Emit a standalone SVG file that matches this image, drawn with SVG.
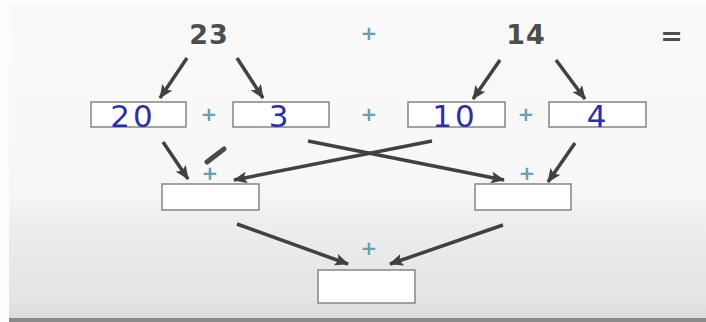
<svg xmlns="http://www.w3.org/2000/svg" width="706" height="322" viewBox="0 0 706 322">
<defs>
<linearGradient id="bg" x1="0" y1="0" x2="0" y2="1">
<stop offset="0" stop-color="#fafafa"/>
<stop offset="0.6" stop-color="#f7f7f7"/>
<stop offset="0.68" stop-color="#eeeeee"/>
<stop offset="0.93" stop-color="#e4e4e4"/>
<stop offset="1" stop-color="#dadada"/>
</linearGradient>
<marker id="ah" markerUnits="userSpaceOnUse" markerWidth="14" markerHeight="12" refX="13" refY="6" orient="auto">
<path d="M0,0 L14,6 L0,12 L3,6 Z" fill="#414141"/>
</marker>
<style>
.num{font-family:"DejaVu Sans",sans-serif;font-weight:bold;font-size:27px;fill:#4d4d4d;text-anchor:middle;letter-spacing:1px}
.plus{font-family:"DejaVu Sans",sans-serif;font-weight:bold;font-size:20px;fill:#6a9fae;text-anchor:middle}
.hw{font-family:"DejaVu Sans",sans-serif;font-size:31px;fill:#2e30a0;text-anchor:middle;letter-spacing:3px}
.box{fill:#ffffff;stroke:#8c8c8c;stroke-width:1.6}
.ar{stroke:#414141;stroke-width:3.5;fill:none;marker-end:url(#ah)}
</style>
</defs>
<rect x="0" y="0" width="706" height="322" fill="url(#bg)"/>
<rect x="0" y="0" width="9" height="322" fill="#fdfdfd"/>
<rect x="0" y="0" width="706" height="3" fill="#fdfdfd"/>
<rect x="9" y="318" width="697" height="4" fill="#8a8a8a"/>

<g id="top">
<text class="num" x="209" y="44">23</text>
<text class="plus" x="369" y="40">+</text>
<text class="num" x="526" y="44">14</text>
<text class="num" x="672" y="45">=</text>
</g>

<g id="n20"><rect class="box" x="91" y="102" width="95" height="25"/><text class="hw" x="133" y="127">20</text></g>
<text class="plus" x="209" y="121">+</text>
<g id="n3"><rect class="box" x="233" y="102" width="96" height="25"/><text class="hw" x="280" y="127">3</text></g>
<text class="plus" x="369" y="121">+</text>
<g id="n10"><rect class="box" x="408" y="102" width="97" height="25"/><text class="hw" x="455" y="127">10</text></g>
<text class="plus" x="526" y="121">+</text>
<g id="n4"><rect class="box" x="549" y="102" width="97" height="25"/><text class="hw" x="598" y="127">4</text></g>

<g id="s1"><text class="plus" x="210" y="180">+</text><rect class="box" x="162" y="184" width="97" height="26"/></g>
<g id="s2"><text class="plus" x="527" y="180">+</text><rect class="box" x="475" y="184" width="96" height="26"/></g>
<g id="total"><text class="plus" x="369" y="255">+</text><rect class="box" x="318" y="270" width="97" height="33"/></g>

<g id="connectors">
<line class="ar" x1="187" y1="58" x2="160" y2="98"/>
<line class="ar" x1="237" y1="58" x2="263" y2="98"/>
<line class="ar" x1="500" y1="60" x2="473" y2="99"/>
<line class="ar" x1="556" y1="60" x2="585" y2="99"/>
<line class="ar" x1="163" y1="142" x2="188" y2="179"/>
<line class="ar" x1="432" y1="141" x2="234" y2="180"/>
<line class="ar" x1="308" y1="141" x2="504" y2="180"/>
<line class="ar" x1="575" y1="143" x2="548" y2="182"/>
<line class="ar" x1="237" y1="224" x2="348" y2="264"/>
<line class="ar" x1="503" y1="225" x2="390" y2="264"/>
<line x1="207" y1="162" x2="224" y2="149" stroke="#4a4a4a" stroke-width="5" stroke-linecap="round"/>
</g>
</svg>
